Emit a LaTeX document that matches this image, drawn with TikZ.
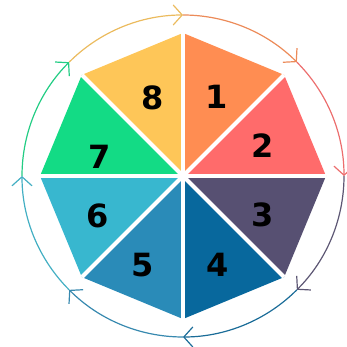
\documentclass[tikz,border=0pt]{standalone}
\usepackage{fontspec}
\setmainfont{DejaVu Sans}
\usetikzlibrary{arrows.meta}
\definecolor{c1}{HTML}{FF8D52}
\definecolor{c2}{HTML}{FF6B6B}
\definecolor{c3}{HTML}{575072}
\definecolor{c4}{HTML}{08689D}
\definecolor{c5}{HTML}{2A8BB8}
\definecolor{c6}{HTML}{38B7CF}
\definecolor{c7}{HTML}{13DB85}
\definecolor{c8}{HTML}{FEC658}
\begin{document}
\begin{tikzpicture}[x=1pt,y=1pt,
  num/.style={font=\fontsize{32}{32}\selectfont\bfseries, inner sep=0pt, text=black},
  ring/.style={line width=1.2pt, -{Straight Barb[length=9pt,width=20pt,line width=1.2pt]}},
  gap/.style={draw=white, line width=4pt}]
\useasboundingbox (0,0) rectangle (347,347);
\coordinate (C) at (183,171);
\foreach \i in {0,...,7} {\coordinate (v\i) at ([shift={(90-45*\i:143)}]C);}
\foreach \k/\a/\b in {1/0/1,2/1/2,3/2/3,4/3/4,5/4/5,6/5/6,7/6/7,8/7/0} {
  \fill[c\k] (C) -- (v\a) -- (v\b) -- cycle;
}
\foreach \i in {0,...,7} {\draw[gap] (C) -- (v\i);}
\fill[white] (C) circle (3.5);
\foreach \k/\sa/\ea in {1/90/45,2/45/0,3/0/-45,4/-45/-90,5/-90/-135,6/-135/-180,7/180/135,8/135/90} {
  \draw[ring, c\k!85!gray] ([shift={(\sa:161)}]C) arc[start angle=\sa, end angle=\ea, radius=161];
}
\node[num] (n1) at (217,250) {1};
\node[num] (n2) at (263,201) {2};
\node[num] (n3) at (263,132) {3};
\node[num] (n4) at (218,82) {4};
\node[num] (n5) at (143,82) {5};
\node[num] (n6) at (98,131) {6};
\node[num] (n7) at (100,190) {7};
\node[num] (n8) at (153,249) {8};
\end{tikzpicture}
\end{document}
